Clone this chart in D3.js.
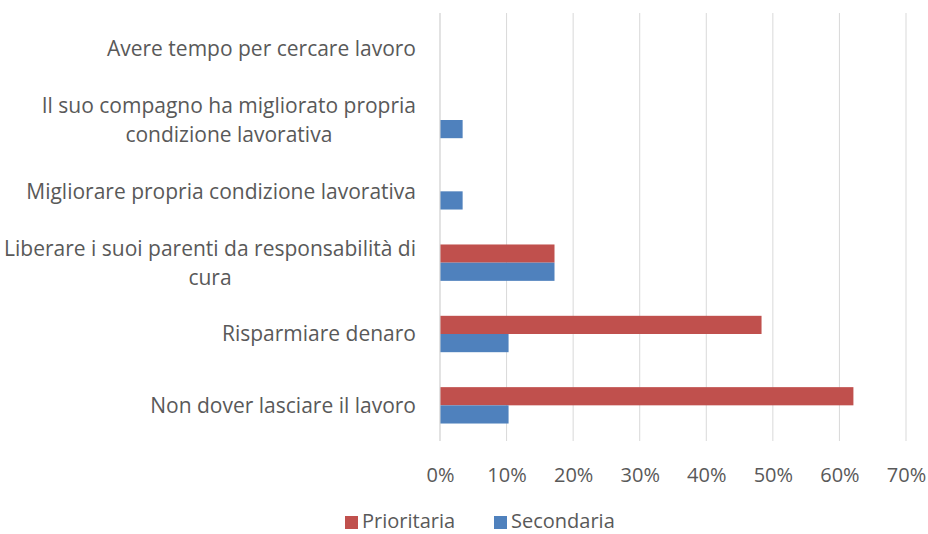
<!DOCTYPE html>
<html><head><meta charset="utf-8">
<script src="https://cdn.jsdelivr.net/npm/d3@7"></script>
<style>body{margin:0;background:#fff}svg{display:block}text{font-family:"Open Sans",Lato,sans-serif;fill:#595959}</style>
</head><body><svg id="c" width="928" height="534"></svg>
<script>
const categories = [
  ["Avere tempo per cercare lavoro"],
  ["Il suo compagno ha migliorato propria", "condizione lavorativa"],
  ["Migliorare propria condizione lavorativa"],
  ["Liberare i suoi parenti da responsabilità di", "cura"],
  ["Risparmiare denaro"],
  ["Non dover lasciare il lavoro"]
];
const seriesNames = ["Prioritaria", "Secondaria"];
const prioritaria = [0, 0, 0, 0.172, 0.483, 0.621];
const secondaria = [0, 0.034, 0.034, 0.172, 0.103, 0.103];
const tickValues = [0, 0.1, 0.2, 0.3, 0.4, 0.5, 0.6, 0.7];
const colors = ["#C0504D", "#4F81BD"];

const FS = "21px";
const svg = d3.select("#c");
const m = {left: 440, right: 906, top: 13, bottom: 441};
const x = d3.scaleLinear().domain([0, 0.7]).range([m.left, m.right]);
const y = d3.scaleBand().domain(d3.range(categories.length)).range([m.top, m.bottom]).paddingInner(0.49).paddingOuter(0.245);
const sub = d3.scaleBand().domain([0, 1]).range([0, y.bandwidth()]);

// gridlines
svg.append("g").selectAll("line").data(tickValues).join("line")
  .attr("x1", d => x(d)).attr("x2", d => x(d)).attr("y1", m.top).attr("y2", m.bottom)
  .attr("stroke", "#D9D9D9").attr("stroke-width", 1);

// x tick labels
const xAxis = d3.axisBottom(x).tickValues(tickValues).tickFormat(d3.format(".0%")).tickSize(0).tickPadding(0);
const gx = svg.append("g").attr("transform", `translate(0,${m.bottom})`).call(xAxis);
gx.select(".domain").remove();
gx.selectAll("text").attr("dy", null).attr("y", 41).style("font-size", "20px").attr("fill", "#595959")
  .style("font-family", "'Open Sans', Lato, sans-serif");

// bars
const data = categories.map((c, i) => ({i, vals: [prioritaria[i], secondaria[i]]}));
const groups = svg.append("g").selectAll("g").data(data).join("g")
  .attr("transform", d => `translate(0,${y(d.i)})`);
groups.selectAll("rect").data(d => d.vals.map((v, k) => ({v, k}))).join("rect")
  .attr("x", x(0)).attr("y", d => sub(d.k))
  .attr("width", d => x(d.v) - x(0)).attr("height", sub.bandwidth())
  .attr("fill", d => colors[d.k]);

// category axis line
svg.append("line").attr("x1", x(0)).attr("x2", x(0)).attr("y1", m.top).attr("y2", m.bottom)
  .attr("stroke", "#D9D9D9");

// category labels
const labelRight = 416;
const lh = 29;
const lg = svg.append("g");
categories.forEach((lines, i) => {
  const cy = y(i) + y.bandwidth() / 2;
  const t = lg.append("text").style("font-size", FS).attr("text-anchor", "middle");
  const spans = lines.map((s, j) => t.append("tspan").text(s)
    .attr("y", cy + (j - (lines.length - 1) / 2) * lh).attr("dy", "0.35em"));
  const w = d3.max(spans, s => s.node().getComputedTextLength());
  spans.forEach(s => s.attr("x", labelRight - w / 2));
});

// legend
const leg = svg.append("g");
const legX = [345, 494];
seriesNames.forEach((n, k) => {
  leg.append("rect").attr("x", legX[k]).attr("y", 516).attr("width", 13).attr("height", 13).attr("fill", colors[k]);
  leg.append("text").attr("x", legX[k] + 17).attr("y", 528).style("font-size", "20px").text(n);
});
</script></body></html>
